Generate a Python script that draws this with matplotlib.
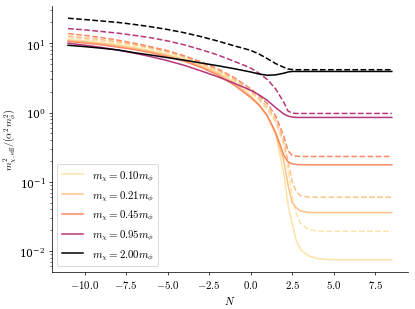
import numpy as np
import matplotlib
matplotlib.use("Agg")
import matplotlib.pyplot as plt
from matplotlib.ticker import FuncFormatter

plt.rcParams["mathtext.fontset"] = "cm"
plt.rcParams["font.family"] = "serif"
plt.rcParams["font.serif"] = ["DejaVu Serif"]
plt.rcParams["font.size"] = 12

# ── data ──────────────────────────────────────────────────────────────────────
N = [-11, -10, -9, -8, -7, -6, -5, -4, -3, -2, -1, 0, 0.5, 1, 1.5, 2,
     2.25, 2.5, 2.75, 3, 3.5, 4, 4.5, 5, 6, 7, 8.5]

masses = ["0.10", "0.21", "0.45", "0.95", "2.00"]
colors = ["#fde4a6", "#fec287", "#fb8861", "#b73779", "#000004"]

# solid curves
solid_010 = [11.3, 10.8, 10.2, 9.5, 8.7, 7.8, 6.9, 5.9, 4.85, 3.8, 2.75, 1.75, 1.3,
             0.9, 0.48, 0.13, 0.046, 0.025, 0.014, 0.0105, 0.0085, 0.0078, 0.0076,
             0.0075, 0.0075, 0.0075, 0.0075]
solid_021 = [11.0, 10.5, 9.9, 9.2, 8.4, 7.6, 6.7, 5.7, 4.7, 3.7, 2.65, 1.72, 1.3,
             0.9, 0.5, 0.2, 0.09, 0.05, 0.042, 0.038, 0.036, 0.036, 0.036,
             0.036, 0.036, 0.036, 0.036]
solid_045 = [10.6, 10.1, 9.5, 8.8, 8.1, 7.3, 6.4, 5.5, 4.5, 3.5, 2.5, 1.65, 1.28,
             0.9, 0.52, 0.24, 0.195, 0.182, 0.178, 0.177, 0.176, 0.176, 0.176,
             0.176, 0.176, 0.176, 0.176]
solid_095 = [10.0, 9.4, 8.7, 8.0, 7.2, 6.4, 5.6, 4.8, 4.0, 3.3, 2.65, 2.1, 1.8,
             1.5, 1.18, 0.95, 0.89, 0.86, 0.85, 0.85, 0.85, 0.85, 0.85,
             0.85, 0.85, 0.85, 0.85]
solid_200 = [9.35, 8.95, 8.5, 8.0, 7.3, 6.75, 6.2, 5.7, 5.2, 4.75, 4.3, 3.85, 3.6,
             3.45, 3.5, 3.7, 3.85, 3.92, 3.92, 3.92, 3.92, 3.92, 3.92,
             3.92, 3.92, 3.92, 3.92]

# dashed curves
dashed_010 = [12.0, 11.4, 10.7, 10.0, 9.2, 8.3, 7.3, 6.2, 5.05, 3.95, 2.9, 1.95, 1.5,
              1.1, 0.72, 0.33, 0.15, 0.06, 0.035, 0.025, 0.0205, 0.0195, 0.0193,
              0.0193, 0.0193, 0.0193, 0.0193]
dashed_021 = [12.7, 12.0, 11.3, 10.5, 9.6, 8.6, 7.6, 6.4, 5.2, 4.1, 3.0, 2.05, 1.6,
              1.2, 0.8, 0.38, 0.2, 0.1, 0.072, 0.063, 0.06, 0.06, 0.06,
              0.06, 0.06, 0.06, 0.06]
dashed_045 = [13.8, 13.0, 12.1, 11.1, 10.0, 8.9, 7.8, 6.6, 5.4, 4.3, 3.2, 2.2, 1.75,
              1.35, 0.9, 0.45, 0.28, 0.24, 0.235, 0.232, 0.232, 0.232, 0.232,
              0.232, 0.232, 0.232, 0.232]
dashed_095 = [16.3, 15.6, 14.8, 14.0, 13.0, 12.0, 10.8, 9.5, 8.1, 6.8, 5.5, 4.4, 3.7,
              3.0, 2.2, 1.4, 1.05, 0.98, 0.97, 0.97, 0.97, 0.97, 0.97,
              0.97, 0.97, 0.97, 0.97]
dashed_200 = [23.0, 22.0, 21.0, 20.0, 18.7, 17.3, 15.8, 14.2, 12.5, 10.8, 9.2, 7.9, 7.0,
              6.0, 5.1, 4.5, 4.25, 4.18, 4.15, 4.15, 4.15, 4.15, 4.15,
              4.15, 4.15, 4.15, 4.15]

solids = [solid_010, solid_021, solid_045, solid_095, solid_200]
dasheds = [dashed_010, dashed_021, dashed_045, dashed_095, dashed_200]

# ── plot ──────────────────────────────────────────────────────────────────────
fig, ax = plt.subplots(figsize=(6.4, 4.78), dpi=64.85)

for m, c, s, d in zip(masses, colors, solids, dasheds):
    ax.plot(N, s, color=c, lw=1.7, label=rf"$m_\chi = {m} m_\phi$")
    ax.plot(N, d, color=c, lw=1.7, ls="--")

ax.set_yscale("log")
ax.set_xlabel(r"$N$")
ax.set_ylabel(r"$m^2_{\chi,\rm eff}/(\alpha^2 m_\phi^2)$", fontsize=11, labelpad=1)
ax.xaxis.set_major_formatter(FuncFormatter(lambda x, p: rf"${x:.1f}$"))
ax.spines["top"].set_visible(False)
ax.spines["right"].set_visible(False)
ax.legend(loc="lower left")

plt.subplots_adjust(left=0.125, right=0.983, bottom=0.12, top=0.977)
plt.savefig("out.png")
